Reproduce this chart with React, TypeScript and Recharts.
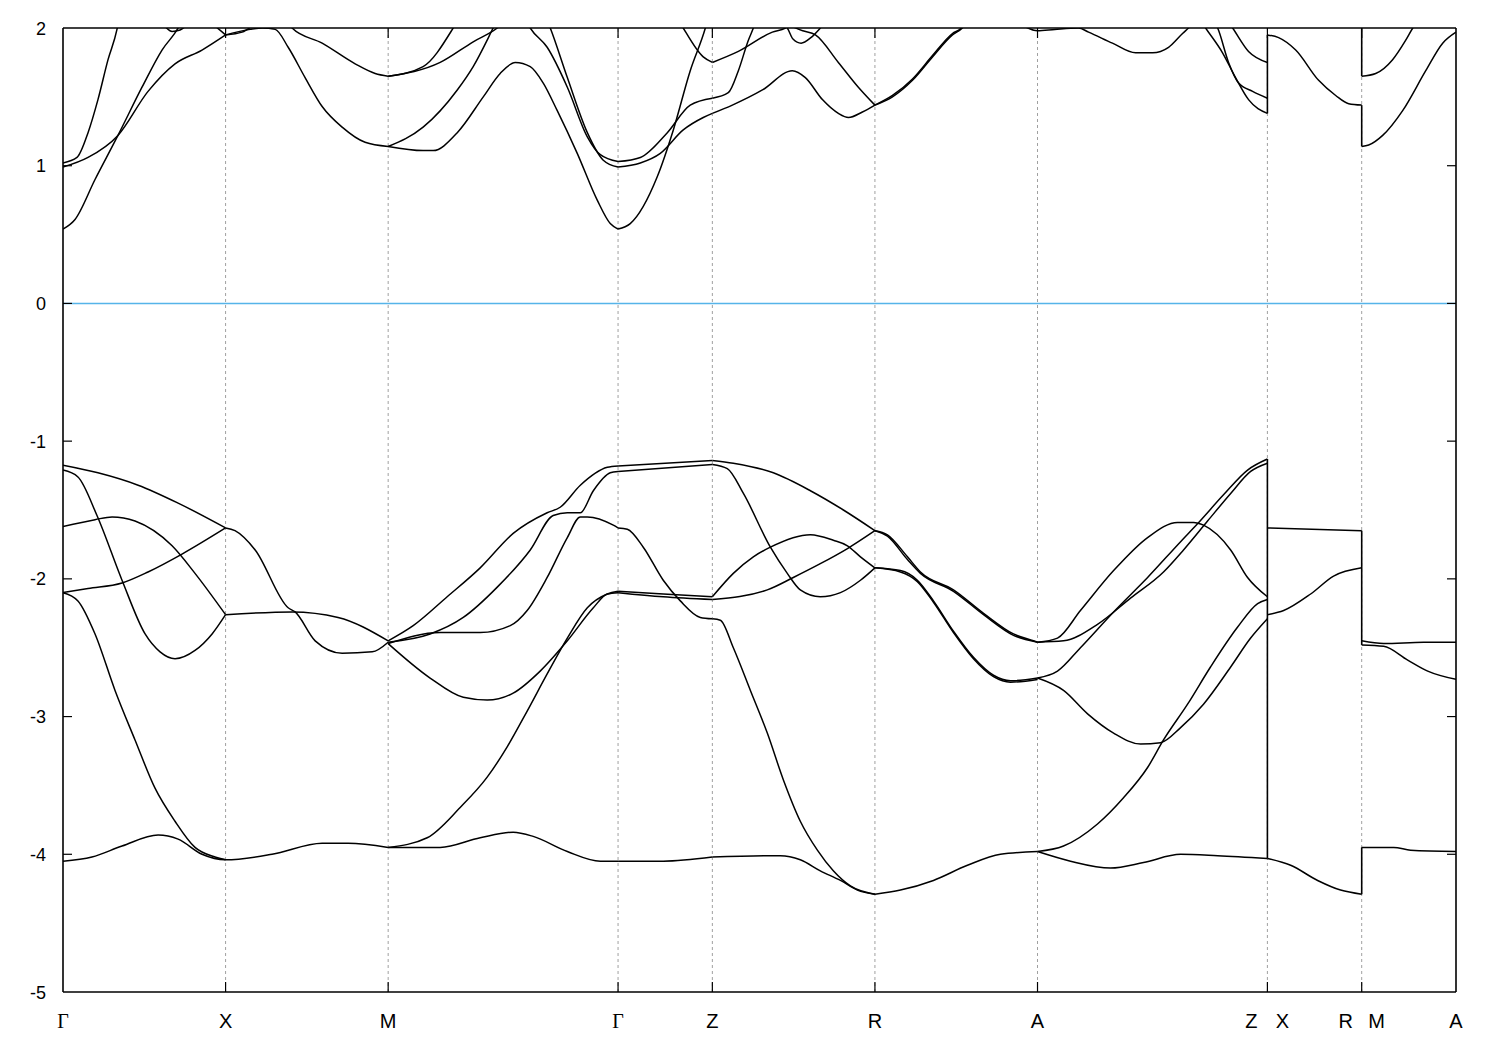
import { LineChart, Line, XAxis, YAxis, ReferenceLine } from 'recharts'

type Pt = [number, number]

// high-symmetry points along the k-path
const kTicks = [0, 1, 2, 3.414, 3.994, 4.994, 5.994, 7.408, 7.988, 8.568]
const kLabels = ['Γ', 'X', 'M', 'Γ', 'Z', 'R', 'A', 'Z|X', 'R|M', 'A']
const eTicks = [2, 1, 0, -1, -2, -3, -4, -5]
const eLabels = ['2', '1', '0', '-1', '-2', '-3', '-4', '-5']

// valence bands, Γ-X-M
const vGX1: Pt[] = [[0, -1.175], [0.215, -1.23], [0.462, -1.32], [0.708, -1.45], [1, -1.63]]
const vGX2: Pt[] = [[0, -1.21], [0.092, -1.26], [0.209, -1.54], [0.363, -2.01], [0.505, -2.4], [0.597, -2.53], [0.689, -2.58], [0.812, -2.52], [0.917, -2.4], [1, -2.26]]
const vGX3: Pt[] = [[0, -1.62], [0.197, -1.57], [0.302, -1.55], [0.443, -1.58], [0.671, -1.76], [0.812, -1.96], [1, -2.26]]
const vGX4: Pt[] = [[0, -2.1], [0.154, -2.07], [0.363, -2.03], [0.523, -1.95], [0.732, -1.82], [1, -1.63]]
const vGX5: Pt[] = [[0, -2.1], [0.092, -2.16], [0.197, -2.4], [0.32, -2.81], [0.443, -3.17], [0.566, -3.52], [0.689, -3.76], [0.812, -3.95], [0.935, -4.02], [1, -4.04]]
const vGX6: Pt[] = [[0, -4.05], [0.178, -4.02], [0.363, -3.94], [0.585, -3.86], [0.708, -3.89], [0.855, -4.0], [1, -4.04], [1.286, -4.0], [1.594, -3.92], [1.754, -3.92], [2, -3.95]]
const vXM1: Pt[] = [[1, -1.63], [1.058, -1.65], [1.182, -1.79], [1.385, -2.21], [1.428, -2.24], [1.551, -2.45], [1.717, -2.54], [1.902, -2.53], [2, -2.46]]
const vXM2: Pt[] = [[1, -2.26], [1.409, -2.24], [1.692, -2.28], [2, -2.45]]

// M-Γ
const vMG1: Pt[] = [[2, -2.45], [2.154, -2.34], [2.363, -2.13], [2.566, -1.92], [2.769, -1.67], [2.978, -1.52], [3.058, -1.48], [3.182, -1.32], [3.348, -1.19], [3.414, -1.18]]
const vMG2: Pt[] = [[2, -2.46], [2.258, -2.4], [2.462, -2.28], [2.671, -2.06], [2.874, -1.79], [3.015, -1.54], [3.102, -1.52], [3.182, -1.52], [3.262, -1.36], [3.366, -1.23], [3.414, -1.22]]
const vMG3: Pt[] = [[2, -2.47], [2.32, -2.39], [2.566, -2.39], [2.751, -2.34], [2.855, -2.23], [2.978, -1.99], [3.102, -1.7], [3.182, -1.55], [3.225, -1.55], [3.385, -1.61], [3.414, -1.63]]
const vMG4: Pt[] = [[2, -2.47], [2.258, -2.72], [2.462, -2.86], [2.609, -2.88], [2.769, -2.83], [2.935, -2.67], [3.102, -2.45], [3.262, -2.21], [3.348, -2.11], [3.414, -2.1]]
const vMG5: Pt[] = [[2, -3.95], [2.24, -3.88], [2.443, -3.66], [2.609, -3.44], [2.732, -3.22], [2.855, -2.96], [2.978, -2.69], [3.102, -2.43], [3.225, -2.21], [3.348, -2.11], [3.414, -2.09]]
const vMG6: Pt[] = [[2, -3.95], [2.32, -3.95], [2.566, -3.88], [2.769, -3.84], [2.892, -3.87], [3.102, -3.98], [3.305, -4.05], [3.414, -4.05]]

// Γ-Z
const vGZ1: Pt[] = [[3.414, -1.18], [3.994, -1.14]]
const vGZ2: Pt[] = [[3.414, -1.22], [3.994, -1.17]]
const vGZ3: Pt[] = [[3.414, -1.63], [3.471, -1.64], [3.569, -1.77], [3.692, -2.01], [3.797, -2.16], [3.92, -2.28], [3.994, -2.29]]
const vGZ4: Pt[] = [[3.414, -2.09], [3.692, -2.11], [3.994, -2.13]]
const vGZ5: Pt[] = [[3.414, -2.1], [3.692, -2.13], [3.994, -2.15]]
const vGZ6: Pt[] = [[3.414, -4.05], [3.692, -4.05], [3.994, -4.02]]

// Z-R
const vZR1: Pt[] = [[3.994, -1.14], [4.123, -1.16], [4.369, -1.23], [4.597, -1.36], [4.8, -1.5], [4.994, -1.65]]
const vZR2: Pt[] = [[3.994, -1.17], [4.086, -1.2], [4.185, -1.38], [4.351, -1.77], [4.455, -1.96], [4.535, -2.08], [4.658, -2.13], [4.782, -2.1], [4.905, -2.01], [4.994, -1.92]]
const vZR3: Pt[] = [[3.994, -2.13], [4.123, -1.96], [4.246, -1.84], [4.351, -1.77], [4.597, -1.68], [4.738, -1.72], [4.825, -1.76], [4.905, -1.84], [4.994, -1.92]]
const vZR4: Pt[] = [[3.994, -2.15], [4.332, -2.08], [4.492, -1.99], [4.658, -1.89], [4.825, -1.78], [4.994, -1.65]]
const vZR5: Pt[] = [[3.994, -2.29], [4.043, -2.3], [4.123, -2.5], [4.228, -2.81], [4.332, -3.12], [4.431, -3.46], [4.535, -3.76], [4.64, -3.97], [4.738, -4.12], [4.843, -4.23], [4.994, -4.29]]
const vZR6: Pt[] = [[3.994, -4.02], [4.412, -4.01], [4.535, -4.04], [4.658, -4.12], [4.782, -4.19], [4.886, -4.26], [4.994, -4.29]]

// R-A
const vRA1: Pt[] = [[4.994, -1.65], [5.071, -1.68], [5.194, -1.84], [5.274, -1.95], [5.477, -2.08], [5.662, -2.25], [5.846, -2.4], [5.969, -2.45], [5.994, -2.46]]
const vRA2: Pt[] = [[4.994, -1.65], [5.071, -1.69], [5.194, -1.86], [5.274, -1.96], [5.477, -2.09], [5.662, -2.26], [5.846, -2.41], [5.994, -2.46]]
const vRA3: Pt[] = [[4.994, -1.92], [5.151, -1.94], [5.255, -2.01], [5.354, -2.16], [5.477, -2.38], [5.6, -2.57], [5.723, -2.7], [5.828, -2.74], [5.994, -2.72]]
const vRA4: Pt[] = [[4.994, -1.92], [5.151, -1.95], [5.255, -2.02], [5.354, -2.17], [5.477, -2.39], [5.6, -2.58], [5.723, -2.71], [5.828, -2.75], [5.994, -2.73]]
const vRA5: Pt[] = [[4.994, -4.29], [5.151, -4.26], [5.354, -4.19], [5.563, -4.08], [5.766, -4.0], [5.994, -3.98]]

// A-Z
const vAZ1: Pt[] = [[5.994, -2.46], [6.117, -2.43], [6.258, -2.23], [6.462, -1.94], [6.671, -1.7], [6.855, -1.59], [6.954, -1.59], [7.015, -1.61], [7.182, -1.79], [7.286, -1.99], [7.408, -2.13]]
const vAZ2: Pt[] = [[5.994, -2.46], [6.154, -2.45], [6.363, -2.33], [6.566, -2.14], [6.769, -1.95], [6.892, -1.79], [7.04, -1.58], [7.182, -1.38], [7.305, -1.22], [7.408, -1.16]]
const vAZ3: Pt[] = [[5.994, -2.72], [6.117, -2.67], [6.258, -2.5], [6.462, -2.24], [6.671, -1.99], [6.874, -1.73], [6.978, -1.6], [7.138, -1.39], [7.286, -1.21], [7.408, -1.13]]
const vAZ4: Pt[] = [[5.994, -2.72], [6.154, -2.81], [6.302, -2.98], [6.462, -3.12], [6.628, -3.2], [6.751, -3.19], [6.874, -3.08], [7.015, -2.91], [7.182, -2.64], [7.305, -2.43], [7.408, -2.29]]
const vAZ5: Pt[] = [[5.994, -3.98], [6.154, -3.94], [6.363, -3.78], [6.523, -3.59], [6.671, -3.37], [6.769, -3.17], [6.917, -2.91], [7.058, -2.64], [7.225, -2.35], [7.348, -2.18], [7.408, -2.15]]
const vAZ6: Pt[] = [[5.994, -3.98], [6.197, -4.05], [6.443, -4.1], [6.646, -4.06], [6.874, -4.0], [7.102, -4.01], [7.408, -4.03]]

// X-R and M-A
const vXR1: Pt[] = [[7.408, -1.63], [7.988, -1.65]]
const vXR2: Pt[] = [[7.408, -2.26], [7.508, -2.23], [7.674, -2.11], [7.815, -1.98], [7.988, -1.92]]
const vXR3: Pt[] = [[7.408, -4.03], [7.551, -4.08], [7.717, -4.19], [7.858, -4.26], [7.988, -4.29]]
const vMA1: Pt[] = [[7.988, -2.45], [8.123, -2.47], [8.369, -2.46], [8.568, -2.46]]
const vMA2: Pt[] = [[7.988, -2.48], [8.123, -2.49], [8.271, -2.59], [8.394, -2.67], [8.568, -2.73]]
const vMA3: Pt[] = [[7.988, -3.95], [8.185, -3.95], [8.289, -3.97], [8.568, -3.98]]

// conduction bands
const cGX1: Pt[] = [[0, 0.54], [0.074, 0.61], [0.197, 0.9], [0.338, 1.22], [0.486, 1.57], [0.609, 1.84], [0.708, 2.0], [0.75, 2.1]]
const cGX2: Pt[] = [[0, 0.99], [0.154, 1.06], [0.338, 1.22], [0.523, 1.54], [0.689, 1.74], [0.855, 1.84], [1, 1.95]]
const cGX3: Pt[] = [[0, 1.02], [0.086, 1.06], [0.154, 1.24], [0.215, 1.48], [0.277, 1.77], [0.332, 1.99], [0.35, 2.1]]
const cGX4: Pt[] = [[0.628, 2.01], [0.671, 1.975], [0.72, 1.985], [0.751, 2.01]]
const cGX5: Pt[] = [[0.9, 2.05], [1, 1.95]]
const cXM1: Pt[] = [[1, 1.95], [1.102, 1.97], [1.18, 2.03]]
const cXM2: Pt[] = [[1, 1.95], [1.151, 1.99], [1.225, 2.0], [1.305, 1.99], [1.385, 1.86], [1.489, 1.64], [1.594, 1.43], [1.717, 1.28], [1.858, 1.17], [2, 1.14]]
const cXM3: Pt[] = [[1.38, 2.05], [1.409, 2.0], [1.594, 1.89], [1.797, 1.74], [1.92, 1.67], [2, 1.65]]
const cMG1: Pt[] = [[2, 1.65], [2.215, 1.72], [2.4, 2.0], [2.45, 2.1]]
const cMG2: Pt[] = [[2, 1.65], [2.32, 1.75], [2.523, 1.9], [2.671, 2.0], [2.72, 2.05]]
const cMG3: Pt[] = [[2, 1.14], [2.215, 1.28], [2.425, 1.55], [2.523, 1.72], [2.646, 2.0], [2.68, 2.08]]
const cMG4: Pt[] = [[2, 1.14], [2.215, 1.11], [2.277, 1.11], [2.425, 1.24], [2.585, 1.5], [2.689, 1.67], [2.782, 1.75], [2.874, 1.72], [2.954, 1.6], [3.04, 1.4], [3.163, 1.09], [3.286, 0.75], [3.366, 0.58], [3.414, 0.54]]
const cMG5: Pt[] = [[2.85, 2.05], [2.874, 2.0], [2.978, 1.86], [3.102, 1.57], [3.225, 1.21], [3.305, 1.08], [3.414, 1.03]]
const cMG6: Pt[] = [[2.98, 2.05], [2.997, 2.0], [3.102, 1.64], [3.225, 1.24], [3.323, 1.04], [3.414, 0.99]]
const cGZ1: Pt[] = [[3.414, 0.54], [3.489, 0.58], [3.655, 0.92], [3.754, 1.26], [3.858, 1.69], [3.951, 2.0], [3.97, 2.08]]
const cGZ2: Pt[] = [[3.414, 1.03], [3.551, 1.06], [3.717, 1.24], [3.858, 1.44], [3.994, 1.49]]
const cGZ3: Pt[] = [[3.414, 0.99], [3.551, 1.02], [3.674, 1.09], [3.815, 1.26], [3.938, 1.35], [3.994, 1.38]]
const cGZ4: Pt[] = [[3.79, 2.05], [3.815, 2.0], [3.938, 1.79], [3.994, 1.75]]
const cZR1: Pt[] = [[3.994, 1.75], [4.154, 1.83], [4.363, 1.97], [4.443, 2.0], [4.47, 2.03]]
const cZR2: Pt[] = [[4.43, 2.03], [4.455, 2.0], [4.49, 1.92], [4.54, 1.89], [4.6, 1.93], [4.658, 2.0], [4.68, 2.03]]
const cZR3: Pt[] = [[3.994, 1.49], [4.092, 1.53], [4.154, 1.69], [4.215, 1.91], [4.246, 2.0], [4.26, 2.05]]
const cZR4: Pt[] = [[3.994, 1.38], [4.117, 1.44], [4.302, 1.55], [4.486, 1.69], [4.566, 1.64], [4.671, 1.48], [4.769, 1.38], [4.831, 1.35], [4.917, 1.39], [4.994, 1.44]]
const cZR5: Pt[] = [[4.43, 2.04], [4.55, 1.98], [4.628, 1.95], [4.769, 1.75], [4.892, 1.57], [4.994, 1.44]]
const cRA1: Pt[] = [[4.994, 1.44], [5.102, 1.5], [5.225, 1.62], [5.348, 1.79], [5.471, 1.95], [5.532, 2.0], [5.56, 2.04]]
const cRA2: Pt[] = [[4.994, 1.44], [5.102, 1.51], [5.225, 1.63], [5.348, 1.8], [5.471, 1.96], [5.525, 2.0], [5.55, 2.04]]
const cAZ1: Pt[] = [[5.9, 2.02], [5.994, 1.98], [6.1, 1.99], [6.246, 2.0], [6.308, 1.97], [6.455, 1.89], [6.597, 1.82], [6.702, 1.82], [6.8, 1.86], [6.886, 1.96], [6.923, 2.0], [6.95, 2.03]]
const cAZ2: Pt[] = [[7.0, 2.05], [7.028, 2.0], [7.132, 1.82], [7.212, 1.64], [7.292, 1.48], [7.408, 1.38]]
const cAZ3: Pt[] = [[7.08, 2.05], [7.102, 2.0], [7.169, 1.75], [7.231, 1.6], [7.317, 1.54], [7.408, 1.49]]
const cAZ4: Pt[] = [[7.17, 2.04], [7.194, 2.0], [7.292, 1.83], [7.408, 1.75]]
const cXR1: Pt[] = [[7.408, 1.95], [7.477, 1.93], [7.582, 1.84], [7.723, 1.62], [7.828, 1.51], [7.908, 1.45], [7.988, 1.44]]
const cMA1: Pt[] = [[7.988, 1.65], [8.074, 1.67], [8.178, 1.77], [8.258, 1.91], [8.302, 2.0], [8.33, 2.05]]
const cMA2: Pt[] = [[7.988, 1.14], [8.031, 1.15], [8.117, 1.22], [8.24, 1.4], [8.382, 1.69], [8.486, 1.89], [8.568, 1.97]]

// discontinuities of the path: [k, from E, to E]
const jumps: [number, number, number][] = [
  [7.408, -4.03, -1.13],
  [7.988, -2.48, -1.65],
  [7.988, -4.29, -3.95],
  [7.408, 1.38, 1.95],
  [7.988, 1.14, 1.44],
  [7.988, 1.65, 2.2],
]

const bands: Pt[][] = [
  vGX1, vGX2, vGX3, vGX4, vGX5, vGX6, vXM1, vXM2,
  vMG1, vMG2, vMG3, vMG4, vMG5, vMG6,
  vGZ1, vGZ2, vGZ3, vGZ4, vGZ5, vGZ6,
  vZR1, vZR2, vZR3, vZR4, vZR5, vZR6,
  vRA1, vRA2, vRA3, vRA4, vRA5,
  vAZ1, vAZ2, vAZ3, vAZ4, vAZ5, vAZ6,
  vXR1, vXR2, vXR3, vMA1, vMA2, vMA3,
  cGX1, cGX2, cGX3, cGX4, cGX5, cXM1, cXM2, cXM3,
  cMG1, cMG2, cMG3, cMG4, cMG5, cMG6,
  cGZ1, cGZ2, cGZ3, cGZ4,
  cZR1, cZR2, cZR3, cZR4, cZR5, cRA1, cRA2,
  cAZ1, cAZ2, cAZ3, cAZ4, cXR1, cMA1, cMA2,
]

const bandSeries = bands.map((b) => b.map(([k, e]) => ({ k, e })))
const jumpSeries = jumps.map(([k, a, b]) => [{ k, e: a }, { k, e: b }])

const SANS = '"Liberation Sans", Arial, sans-serif'
const SERIF = '"Liberation Serif", "DejaVu Serif", serif'

function labelText(text: string, x: number, y: number) {
  return (
    <text
      key={text + x}
      x={x}
      y={y}
      textAnchor="middle"
      fontSize={20}
      fontFamily={text === 'Γ' ? SERIF : SANS}
      fill="#000"
    >
      {text}
    </text>
  )
}

function BottomTick(props: any) {
  const { x, y, payload } = props
  const i = kTicks.indexOf(payload.value)
  const parts = (kLabels[i] ?? '').split('|')
  const inner = i > 0 && i < kTicks.length - 1
  return (
    <g>
      {inner && <line x1={x} x2={x} y1={y} y2={y - 10} stroke="#000" strokeWidth={1.2} />}
      {parts.length === 2
        ? [labelText(parts[0], x - 16, y + 36), labelText(parts[1], x + 15, y + 36)]
        : labelText(parts[0], x, y + 36)}
    </g>
  )
}

function TopTick(props: any) {
  const { x, y, payload } = props
  const i = kTicks.indexOf(payload.value)
  if (i <= 0 || i >= kTicks.length - 1) return <g />
  return <line x1={x} x2={x} y1={y} y2={y + 10} stroke="#000" strokeWidth={1.2} />
}

function LeftTick(props: any) {
  const { x, y, payload } = props
  const i = eTicks.indexOf(payload.value)
  const edge = i === 0 || i === eTicks.length - 1
  return (
    <g>
      {!edge && <line x1={x} x2={x + 9} y1={y} y2={y} stroke="#000" strokeWidth={1.2} />}
      <text x={x - 17} y={y + 6.5} textAnchor="end" fontSize={18} fontFamily={SANS} fill="#000">
        {eLabels[i]}
      </text>
    </g>
  )
}

function RightTick(props: any) {
  const { x, y, payload } = props
  const i = eTicks.indexOf(payload.value)
  if (i === 0 || i === eTicks.length - 1) return <g />
  return <line x1={x - 9} x2={x} y1={y} y2={y} stroke="#000" strokeWidth={1.2} />
}

export default function App() {
  const kMax = kTicks[kTicks.length - 1]
  return (
    <div style={{ position: 'absolute', left: 0, top: 0, background: '#fff' }}>
      <LineChart width={1500} height={1050} margin={{ top: 27, right: 43, bottom: 28, left: 0 }}>
        <XAxis
          dataKey="k"
          type="number"
          domain={[0, kMax]}
          ticks={kTicks}
          interval={0}
          axisLine={false}
          tickLine={false}
          tickSize={0}
          tickMargin={0}
          height={30}
          tick={BottomTick}
          allowDataOverflow
        />
        <XAxis
          xAxisId="top"
          orientation="top"
          dataKey="k"
          type="number"
          domain={[0, kMax]}
          ticks={kTicks}
          interval={0}
          axisLine={false}
          tickLine={false}
          tickSize={0}
          tickMargin={0}
          height={1}
          tick={TopTick}
          allowDataOverflow
        />
        <YAxis
          type="number"
          domain={[-5, 2]}
          ticks={eTicks}
          interval={0}
          axisLine={false}
          tickLine={false}
          tickSize={0}
          tickMargin={0}
          width={63}
          tick={LeftTick}
          allowDataOverflow
        />
        <YAxis
          yAxisId="right"
          orientation="right"
          type="number"
          domain={[-5, 2]}
          ticks={eTicks}
          interval={0}
          axisLine={false}
          tickLine={false}
          tickSize={0}
          tickMargin={0}
          width={1}
          tick={RightTick}
          allowDataOverflow
        />
        {kTicks.slice(1, -1).map((k) => (
          <ReferenceLine key={'g' + k} x={k} stroke="#a0a0a0" strokeWidth={1} strokeDasharray="3 3" />
        ))}
        <ReferenceLine y={0} stroke="#56b4e9" strokeWidth={1.5} />
        {bandSeries.map((d, i) => (
          <Line
            key={'b' + i}
            data={d}
            dataKey="e"
            type="monotone"
            stroke="#000"
            strokeWidth={1.5}
            dot={false}
            activeDot={false}
            isAnimationActive={false}
          />
        ))}
        {jumpSeries.map((d, i) => (
          <Line
            key={'j' + i}
            data={d}
            dataKey="e"
            type="linear"
            stroke="#000"
            strokeWidth={1.6}
            dot={false}
            activeDot={false}
            isAnimationActive={false}
          />
        ))}
        <ReferenceLine x={0} stroke="#000" strokeWidth={1.6} />
        <ReferenceLine x={kMax} stroke="#000" strokeWidth={1.6} />
        <ReferenceLine y={2} stroke="#000" strokeWidth={1.6} />
        <ReferenceLine y={-5} stroke="#000" strokeWidth={1.6} />
      </LineChart>
    </div>
  )
}
